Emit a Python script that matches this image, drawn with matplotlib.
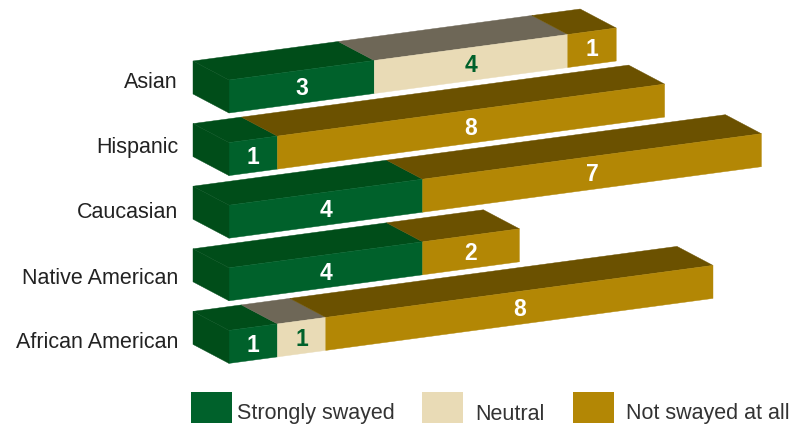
import numpy as np
import matplotlib.pyplot as plt
from matplotlib.patches import Polygon, Rectangle

# data
groups = ['Asian', 'Hispanic', 'Caucasian', 'Native American', 'African American']
strongly = [3, 1, 4, 4, 1]
neutral = [4, 0, 0, 0, 1]
not_swayed = [1, 8, 7, 2, 8]
series_names = ['Strongly swayed', 'Neutral', 'Not swayed at all']

# colours: (front, top/side)
front_cols = ['#00612b', '#e9dbb6', '#b38705']
top_cols = ['#004d19', '#6e6757', '#6b5100']
num_cols = ['white', '#00612b', 'white']

plt.rcParams['font.family'] = ['Liberation Sans', 'DejaVu Sans']

fig = plt.figure(figsize=(8.01, 4.24), dpi=100)
ax = fig.add_axes([0, 0, 1, 1])
ax.set_xlim(0, 801)
ax.set_ylim(424, 0)
ax.axis('off')

# projection of the pseudo-3d bars (pixel space)
x0 = 229          # left edge of front faces
ux, uy = 48.4, -6.5   # one value unit along the bar
dep = (-36, -19)      # depth of the bar
hgt = 33              # height of the front face
row0, row_step = 113, 62.6


def proj(row, v, d, h):
    yb = row0 + row_step * row
    return (x0 + ux * v + dep[0] * d, yb + uy * v + dep[1] * d - hgt * h)


def poly(pts, col, z):
    ax.add_patch(Polygon(pts, closed=True, facecolor=col, edgecolor=col,
                         lw=0.3, zorder=z))


data = np.array([strongly, neutral, not_swayed])
for i, g in enumerate(groups):
    z = 2 + i * 3
    starts = np.concatenate([[0], np.cumsum(data[:, i])[:-1]])
    for k in range(3):
        v0 = starts[k]
        v1 = v0 + data[k, i]
        if data[k, i] == 0:
            continue
        # top face
        poly([proj(i, v0, 0, 1), proj(i, v1, 0, 1), proj(i, v1, 1, 1),
              proj(i, v0, 1, 1)], top_cols[k], z)
        # front face
        poly([proj(i, v0, 0, 0), proj(i, v1, 0, 0), proj(i, v1, 0, 1),
              proj(i, v0, 0, 1)], front_cols[k], z + 1)
        cx, cy = proj(i, (v0 + v1) / 2, 0, 0.44)
        ax.text(cx, cy, str(data[k, i]), color=num_cols[k], fontsize=16.5,
                fontweight='bold', ha='center', va='center', zorder=z + 2)
    # left side face
    poly([proj(i, 0, 0, 0), proj(i, 0, 0, 1), proj(i, 0, 1, 1),
          proj(i, 0, 1, 0)], top_cols[0], z + 1)
    ax.text(178, 83 + 65 * i, g, ha='right', va='center', fontsize=15.5,
            color='#222222')

# legend
leg_box_x = [191, 422, 573]
leg_txt_x = [237, 475, 626]
for k in range(3):
    ax.add_patch(Rectangle((leg_box_x[k], 392), 41, 31, facecolor=front_cols[k],
                           edgecolor='none'))
    ax.text(leg_txt_x[k], 419.5, series_names[k], ha='left', va='baseline',
            fontsize=15.5, color='#333333')

fig.savefig('out.png', dpi=100)
